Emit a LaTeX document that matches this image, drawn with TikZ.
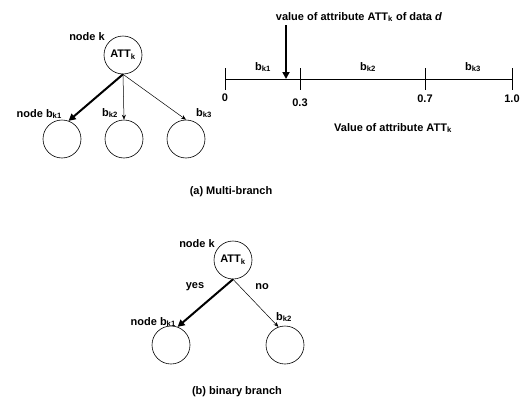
\documentclass[tikz,border=0pt]{standalone}
\usepackage{fontspec}
\setmainfont{Liberation Sans}
\usetikzlibrary{positioning,calc,arrows.meta}

\begin{document}
\begin{tikzpicture}[x=1pt,y=-1pt]
	\tikzstyle{lbl}=[font=\bfseries\fontsize{11}{13}\selectfont, inner sep=0pt];
	\tikzstyle{att_node}=[draw, circle, minimum size=38pt, inner sep=0pt, line width=0.6pt, font=\bfseries\fontsize{11}{13}\selectfont];
	\tikzstyle{thin_arr}=[line width=0.5pt, -{Stealth[length=5pt,width=4pt]}];
	\tikzstyle{thick_arr}=[line width=2pt, -{Triangle[length=7pt,width=7pt]}];

	\useasboundingbox (0,0) rectangle (525,399);

	% (a) multi-branch tree
	\node[att_node] (m_root) at (123,55) {ATT\textsubscript{k}};
	\node[att_node] (m_b1) at (62,139) {};
	\node[att_node] (m_b2) at (124,139) {};
	\node[att_node] (m_b3) at (186,139) {};

	\draw[thick_arr] (m_root.south) -- (m_b1.70);
	\draw[thin_arr] (m_root.south) -- (m_b2.north);
	\draw[thin_arr] (m_root.south) -- (m_b3.north);

	\node[lbl] (m_k) at (87,37) {node k};
	\node[lbl, anchor=east] (m_l1) at (62,114) {node b\textsubscript{k1}};
	\node[lbl] (m_l2) at (110,113) {b\textsubscript{k2}};
	\node[lbl] (m_l3) at (204,113) {b\textsubscript{k3}};

	% value axis
	\coordinate (nl0) at (225,79);
	\coordinate (nl3) at (300,79);
	\coordinate (nl7) at (425,79);
	\coordinate (nl1) at (512,79);
	\draw[line width=0.6pt] (nl0) -- (nl1);
	\draw[line width=0.6pt] ($(nl0)+(0,-11)$) -- ($(nl0)+(0,11)$);
	\draw[line width=0.6pt] ($(nl3)+(0,-11)$) -- ($(nl3)+(0,11)$);
	\draw[line width=0.6pt] ($(nl7)+(0,-11)$) -- ($(nl7)+(0,11)$);
	\draw[line width=0.6pt] ($(nl1)+(0,-11)$) -- ($(nl1)+(0,11)$);

	\node[lbl] (t0) at ($(nl0)+(0,19)$) {0};
	\node[lbl] (t3) at ($(nl3)+(0,24)$) {0.3};
	\node[lbl] (t7) at ($(nl7)+(0,20)$) {0.7};
	\node[lbl] (t1) at ($(nl1)+(0,20)$) {1.0};

	\node[lbl] (s1) at (263,67) {b\textsubscript{k1}};
	\node[lbl] (s2) at (368,67) {b\textsubscript{k2}};
	\node[lbl] (s3) at (473,67) {b\textsubscript{k3}};

	\node[lbl] (vd) at (359,17) {value of attribute ATT\textsubscript{k} of data \textit{d}};
	\coordinate (dval) at (286,79);
	\draw[thick_arr] ($(dval |- vd.south)+(0,3)$) -- (dval);

	\node[lbl] (vx) at (393,128) {Value of attribute ATT\textsubscript{k}};

	\node[lbl] (cap_a) at (231,192) {(a) Multi-branch};

	% (b) binary tree
	\node[att_node] (b_root) at (233,260) {ATT\textsubscript{k}};
	\node[att_node] (b_b1) at (171,345) {};
	\node[att_node] (b_b2) at (285,345) {};

	\draw[thick_arr] (b_root.south) -- (b_b1.70);
	\draw[thin_arr] (b_root.south) -- (b_b2.110);

	\node[lbl] (b_k) at (197,244) {node k};
	\node[lbl] (b_yes) at (195,287) {yes};
	\node[lbl] (b_no) at (262,287) {no};
	\node[lbl, anchor=east] (b_l1) at (176,322) {node b\textsubscript{k1}};
	\node[lbl] (b_l2) at (284,317) {b\textsubscript{k2}};

	\node[lbl] (cap_b) at (237,392) {(b) binary branch};

\end{tikzpicture}
\end{document}
